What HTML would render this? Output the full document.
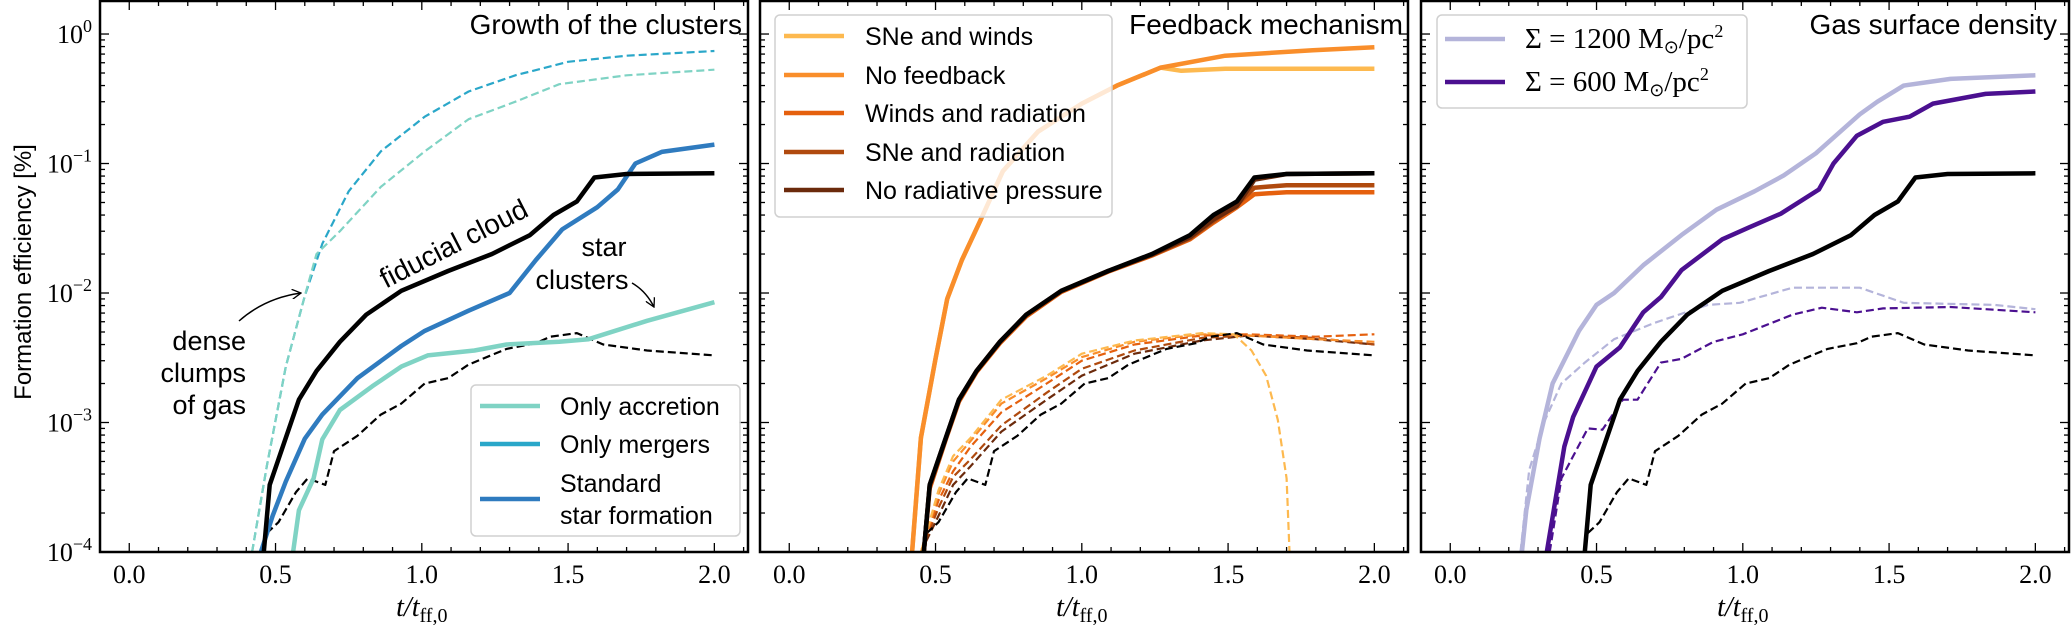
<!DOCTYPE html>
<html><head><meta charset="utf-8"><style>
html,body{margin:0;padding:0;background:#fff;}
svg{display:block;}
text{font-family:"Liberation Sans",sans-serif;fill:#000;}
.serif{font-family:"Liberation Serif",serif;}
</style></head><body>
<svg id="fig" width="2071" height="625" viewBox="0 0 2071 625" xmlns="http://www.w3.org/2000/svg"></svg>
<script>
// ---------- DATA (t in t/tff,0 ; values in %) ----------
const fidT = [0.46,0.48,0.535,0.58,0.64,0.72,0.81,0.93,1.09,1.24,1.37,1.45,1.53,1.59,1.7,2.0];
const fidV = [1e-4,3.3e-4,7.6e-4,1.5e-3,2.5e-3,4.2e-3,6.8e-3,1.04e-2,1.48e-2,2.0e-2,2.8e-2,4.0e-2,5.1e-2,7.8e-2,8.3e-2,8.4e-2];
const fidCT = [0.47,0.51,0.57,0.61,0.67,0.70,0.78,0.86,0.93,1.01,1.09,1.16,1.29,1.39,1.44,1.53,1.62,1.77,2.0];
const fidCV = [1.4e-4,1.7e-4,2.9e-4,3.7e-4,3.3e-4,6e-4,7.9e-4,1.15e-3,1.4e-3,2.0e-3,2.2e-3,2.8e-3,3.7e-3,4.1e-3,4.6e-3,4.9e-3,4.0e-3,3.6e-3,3.3e-3];
const accT = [0.56,0.58,0.63,0.66,0.72,0.83,0.93,1.02,1.18,1.29,1.47,1.57,1.77,2.0];
const accV = [1e-4,2.1e-4,3.7e-4,7.4e-4,1.25e-3,1.9e-3,2.7e-3,3.3e-3,3.6e-3,4.0e-3,4.2e-3,4.4e-3,6.1e-3,8.5e-3];
const stdT = [0.45,0.49,0.535,0.6,0.66,0.78,0.93,1.01,1.16,1.3,1.39,1.48,1.6,1.67,1.73,1.82,2.0];
const stdV = [1e-4,1.9e-4,3.5e-4,7.5e-4,1.15e-3,2.2e-3,3.9e-3,5.1e-3,7.3e-3,1.0e-2,1.8e-2,3.1e-2,4.6e-2,6.3e-2,1.0e-1,1.23e-1,1.4e-1];
const mergGasT = [0.42,0.47,0.535,0.6,0.66,0.75,0.86,1.01,1.16,1.32,1.5,1.7,2.0];
const mergGasV = [1e-4,4.6e-4,2.7e-3,9.5e-3,2.4e-2,6.1e-2,1.24e-1,2.3e-1,3.6e-1,4.8e-1,6.1e-1,6.8e-1,7.4e-1];
const accGasT = [0.42,0.47,0.535,0.6,0.64,0.72,0.86,1.01,1.16,1.32,1.47,1.7,2.0];
const accGasV = [1e-4,4.6e-4,2.7e-3,9.5e-3,2.0e-2,3.0e-2,6.6e-2,1.24e-1,2.2e-1,3.0e-1,4.1e-1,4.8e-1,5.3e-1];
// feedback panel
const fbRiseT = [0.42,0.45,0.5,0.54,0.59,0.65,0.73,0.85,1.0,1.12,1.27];
const fbRiseV = [1e-4,7.6e-4,3.1e-3,9e-3,1.8e-2,3.5e-2,8.7e-2,1.76e-1,2.9e-1,4.0e-1,5.5e-1];
const noFbTailT = [1.49,1.79,2.0];
const noFbTailV = [6.8e-1,7.5e-1,7.9e-1];
const snwTailT = [1.34,1.49,2.0];
const snwTailV = [5.2e-1,5.4e-1,5.4e-1];
const windRadV = [1e-4,3.1e-4,7.4e-4,1.45e-3,2.45e-3,4.1e-3,6.6e-3,1.02e-2,1.46e-2,1.95e-2,2.6e-2,3.5e-2,4.6e-2,5.8e-2,6.0e-2,6.0e-2];
const snRadV = [1e-4,3.2e-4,7.5e-4,1.48e-3,2.5e-3,4.2e-3,6.7e-3,1.03e-2,1.47e-2,1.97e-2,2.65e-2,3.6e-2,4.8e-2,6.5e-2,6.8e-2,6.8e-2];
const noRadV = [1e-4,3.3e-4,7.6e-4,1.5e-3,2.5e-3,4.2e-3,6.8e-3,1.04e-2,1.48e-2,1.98e-2,2.7e-2,3.7e-2,4.7e-2,7.5e-2,8.3e-2,8.4e-2];
const fbDashT = [0.45,0.51,0.56,0.62,0.725,0.88,1.0,1.18,1.41,1.57,1.8,2.0];
const snwDashT = [0.45,0.51,0.56,0.62,0.725,0.88,1.0,1.18,1.41,1.52,1.58,1.63,1.67,1.7,1.71];
const snwDashV2 = [1e-4,3.0e-4,5.5e-4,7.6e-4,1.5e-3,2.3e-3,3.4e-3,4.3e-3,4.9e-3,4.8e-3,3.6e-3,2.3e-3,1.05e-3,3.7e-4,1e-4];
const noFbDashV = [1e-4,2.8e-4,5.0e-4,7.2e-4,1.4e-3,2.2e-3,3.2e-3,4.2e-3,4.8e-3,4.7e-3,4.4e-3,4.2e-3];
const windRadDashV = [1e-4,2.5e-4,4.2e-4,6.5e-4,1.2e-3,2.0e-3,3.0e-3,4.0e-3,4.7e-3,4.8e-3,4.6e-3,4.8e-3];
const snRadDashV = [1e-4,2.2e-4,3.8e-4,5.2e-4,9.5e-4,1.7e-3,2.6e-3,3.6e-3,4.5e-3,4.7e-3,4.5e-3,4.0e-3];
const noRadDashV = [1e-4,1.9e-4,3.3e-4,4.6e-4,8.5e-4,1.5e-3,2.3e-3,3.4e-3,4.3e-3,4.7e-3,4.4e-3,4.0e-3];
// surface density panel
const s1200T = [0.245,0.26,0.305,0.35,0.44,0.5,0.56,0.66,0.79,0.91,1.04,1.14,1.25,1.4,1.46,1.55,1.71,2.0];
const s1200V = [1e-4,2.1e-4,7.5e-4,2.0e-3,5.1e-3,8.1e-3,1.0e-2,1.64e-2,2.8e-2,4.4e-2,6.1e-2,8.1e-2,1.2e-1,2.4e-1,3.0e-1,4.0e-1,4.5e-1,4.8e-1];
const s600T = [0.33,0.39,0.42,0.5,0.58,0.66,0.72,0.79,0.93,1.02,1.13,1.26,1.31,1.39,1.48,1.57,1.65,1.83,2.0];
const s600V = [1e-4,6.5e-4,1.1e-3,2.7e-3,3.8e-3,7.1e-3,9.3e-3,1.5e-2,2.6e-2,3.2e-2,4.1e-2,6.3e-2,1.0e-1,1.64e-1,2.1e-1,2.3e-1,2.9e-1,3.45e-1,3.6e-1];
const s1200CT = [0.24,0.27,0.32,0.38,0.46,0.56,0.7,0.88,0.99,1.17,1.4,1.55,1.86,2.0];
const s1200CV = [1e-4,4.3e-4,1.0e-3,2.0e-3,2.9e-3,4.4e-3,5.9e-3,8.1e-3,8.4e-3,1.1e-2,1.1e-2,8.4e-3,8.1e-3,7.5e-3];
const s600CT = [0.34,0.38,0.47,0.52,0.59,0.64,0.72,0.79,0.9,1.0,1.17,1.27,1.39,1.48,1.71,2.0];
const s600CV = [1e-4,3.7e-4,9.0e-4,8.8e-4,1.5e-3,1.5e-3,2.9e-3,3.1e-3,4.2e-3,4.8e-3,6.8e-3,7.7e-3,7.1e-3,7.6e-3,7.8e-3,7.1e-3];
const xTickLabels = ["0.0","0.5","1.0","1.5","2.0"];
const yTickExp = ["0","−1","−2","−3","−4"];

// ---------- DRAWING ----------
const NS = "http://www.w3.org/2000/svg";
const svg = document.getElementById('fig');
function mk(tag, attrs, parent){ const e=document.createElementNS(NS,tag); for(const k in attrs) e.setAttribute(k,attrs[k]); (parent||svg).appendChild(e); return e; }
const panelsL = [100,760,1421];
const PW = 648, TOP = 1, BOT = 552;
const XMIN=-0.1, XMAX=2.115, YMINL=-4, YMAXL=0.255;
function xs(p,t){ return panelsL[p] + (t-XMIN)/(XMAX-XMIN)*PW; }
function ys(v){ const l=Math.log10(Math.max(v,1e-6)); return BOT - (l-YMINL)/(YMAXL-YMINL)*(BOT-TOP); }

panelsL.forEach((L,i)=>{
  const cp = mk('clipPath',{id:'clip'+i});
  mk('rect',{x:L,y:TOP,width:PW,height:BOT-TOP},cp);
});

function line(p, T, V, color, w, dashed, name){
  let d=''; T.forEach((t,i)=>{ d += (i?'L':'M') + xs(p,t).toFixed(1)+','+ys(V[i]).toFixed(1); });
  const e = mk('path',{d:d,fill:'none',stroke:color,'stroke-width':w,'stroke-linejoin':'round','clip-path':'url(#clip'+p+')'});
  if(dashed) e.setAttribute('stroke-dasharray','8,4');
  
  
  return e;
}

function axes(p){
  const L=panelsL[p], g=mk('g',{});
  
  
  for(let k=-1;k<=21;k++){
    const t=k/10; if(t<XMIN||t>XMAX) continue;
    const x=xs(p,t), major=(k%5===0), len=major?9:5;
    mk('line',{x1:x,y1:BOT,x2:x,y2:BOT-len,stroke:'#000','stroke-width':1.3},g);
    mk('line',{x1:x,y1:TOP,x2:x,y2:TOP+len,stroke:'#000','stroke-width':1.3},g);
  }
  xTickLabels.forEach((s,i)=>{
    const tx = mk('text',{x:xs(p,i*0.5),y:583,'text-anchor':'middle','font-size':26,class:'serif'},g);
    tx.textContent=s;
    
    
  });
  for(let dec=-4; dec<=0; dec++){
    for(let m=1;m<=9;m++){
      const v=m*Math.pow(10,dec); const y=ys(v); if(y<TOP) continue;
      const len = m===1?9:5;
      mk('line',{x1:L,y1:y,x2:L+len,y2:y,stroke:'#000','stroke-width':1.3},g);
      mk('line',{x1:L+PW,y1:y,x2:L+PW-len,y2:y,stroke:'#000','stroke-width':1.3},g);
    }
  }
  if(p===0){
    yTickExp.forEach((s,i)=>{
      const y = ys(Math.pow(10,-i));
      const tx = mk('text',{x:92,y:y+9,'text-anchor':'end','font-size':26,class:'serif'},g);
      
      
      const a=document.createElementNS(NS,'tspan'); a.textContent='10'; tx.appendChild(a);
      const b=document.createElementNS(NS,'tspan'); b.setAttribute('dy','-11'); b.setAttribute('font-size','18'); b.textContent=s; tx.appendChild(b);
    });
  }
  const xl = mk('text',{x:xs(p,1.0),y:616,'text-anchor':'middle','font-size':28,class:'serif','font-style':'italic'},g);
  
  
  xl.innerHTML = 't/t<tspan font-size="20" font-style="normal" dy="6">ff,0</tspan>';
  mk('rect',{x:L,y:TOP,width:PW,height:BOT-TOP,fill:'none',stroke:'#000','stroke-width':2.5},g);
}
function txt(x,y,s,size,anchor,name,extra){
  const t=mk('text',Object.assign({x:x,y:y,'font-size':size,'text-anchor':anchor||'start'},extra||{}));
  t.textContent=s;
  
  
  return t;
}

// Panel 1
line(0,mergGasT,mergGasV,'#2aa7c9',2.2,true,'only-mergers-gas');
line(0,accGasT,accGasV,'#7fd3c4',2.2,true,'only-accretion-gas');
line(0,fidCT,fidCV,'#000',2.2,true,'fiducial-clusters');
line(0,accT,accV,'#7fd3c4',4.5,false,'only-accretion');
line(0,stdT,stdV,'#2f7bbf',4.5,false,'standard-star-formation');
line(0,fidT,fidV,'#000',4.5,false,'fiducial-cloud');
// Panel 2
line(1,fbDashT,noRadDashV,'#6b2a0c',2.2,true,'no-radiative-pressure-clusters');
line(1,fbDashT,snRadDashV,'#b04a0e',2.2,true,'sne-radiation-clusters');
line(1,fbDashT,windRadDashV,'#e5600e',2.2,true,'winds-radiation-clusters');
line(1,fbDashT,noFbDashV,'#f98e2b',2.2,true,'no-feedback-clusters');
line(1,snwDashT,snwDashV2,'#fdb94f',2.2,true,'sne-winds-clusters');
line(1,fidCT,fidCV,'#000',2.2,true,'fiducial-clusters');
line(1,fbRiseT.concat(snwTailT),fbRiseV.concat(snwTailV),'#fdb94f',4.5,false,'sne-winds');
line(1,fbRiseT.concat(noFbTailT),fbRiseV.concat(noFbTailV),'#f98e2b',4.5,false,'no-feedback');
line(1,fidT,windRadV,'#e5600e',4.5,false,'winds-radiation');
line(1,fidT,snRadV,'#b04a0e',4.5,false,'sne-radiation');
line(1,fidT,noRadV,'#6b2a0c',4.5,false,'no-radiative-pressure');
line(1,fidT,fidV,'#000',4.5,false,'fiducial-cloud');
// Panel 3
line(2,s1200CT,s1200CV,'#b4b4da',2.2,true,'sigma-1200-clusters');
line(2,s600CT,s600CV,'#4b1090',2.2,true,'sigma-600-clusters');
line(2,fidCT,fidCV,'#000',2.2,true,'fiducial-clusters');
line(2,s1200T,s1200V,'#b4b4da',4.5,false,'sigma-1200');
line(2,s600T,s600V,'#4b1090',4.5,false,'sigma-600');
line(2,fidT,fidV,'#000',4.5,false,'fiducial-cloud');

[0,1,2].forEach(axes);

txt(0,0,'Formation efficiency [%]',24,'middle','y-axis-title',{transform:'translate(31,272) rotate(-90)'});

txt(742,34,'Growth of the clusters',28,'end','panel-1-title');
txt(1403,34,'Feedback mechanism',28,'end','panel-2-title');
txt(2057,34,'Gas surface density',28,'end','panel-3-title');

txt(0,0,'fiducial cloud',28,'middle','fiducial-cloud-label',{transform:'translate(458,252) rotate(-27)'});
txt(604,256,'star',27,'middle','star-clusters-label');
txt(582,289,'clusters',27,'middle','star-clusters-label-2');
txt(246,350,'dense',27,'end','dense-clumps-label');
txt(246,382,'clumps',27,'end','dense-clumps-label-2');
txt(246,414,'of gas',27,'end','dense-clumps-label-3');
mk('defs',{}).innerHTML='<marker id="ah" markerWidth="10" markerHeight="10" refX="9" refY="5" orient="auto" markerUnits="userSpaceOnUse"><path d="M0,0 L9,5 L0,10" fill="none" stroke="#000" stroke-width="1.3"/></marker>';
const a1=mk('path',{d:'M239,321 Q265,298 301,293',fill:'none',stroke:'#000','stroke-width':1.5,'marker-end':'url(#ah)'});
 
const a2=mk('path',{d:'M632,283 Q646,291 654,307',fill:'none',stroke:'#000','stroke-width':1.5,'marker-end':'url(#ah)'});
 

function legend(x,y,w,h,entries,name,textX,lineX){
  const g=mk('g',{});
  
  
  mk('rect',{x:x,y:y,width:w,height:h,rx:5,fill:'rgba(255,255,255,0.8)',stroke:'#d0d0d0','stroke-width':1.5},g);
  entries.forEach(e=>{
    mk('line',{x1:lineX,y1:e[2],x2:lineX+60,y2:e[2],stroke:e[1],'stroke-width':4.5},g);
    e[3].forEach((s,j)=>{
      const t=mk('text',{x:textX,y:e[2]+9+(e[3].length>1?(j*32-16):0),'font-size':e[4]||25},g);
      t.innerHTML=s;
      
      
    });
  });
}
legend(471,385,269,151,[
  ['a','#7fd3c4',406,['Only accretion']],
  ['b','#2aa7c9',444,['Only mergers']],
  ['c','#2f7bbf',499,['Standard','star formation']]],'legend-panel-1',560,480);
legend(775,15,337,202,[
  ['a','#fdb94f',36,['SNe and winds']],
  ['b','#f98e2b',75,['No feedback']],
  ['c','#e5600e',113,['Winds and radiation']],
  ['d','#b04a0e',152,['SNe and radiation']],
  ['e','#6b2a0c',190,['No radiative pressure']]],'legend-panel-2',865,784);
legend(1437,15,310,93,[
  ['a','#b4b4da',39,['<tspan class="serif">Σ = 1200 M<tspan font-size="18" dy="5">⊙</tspan><tspan dy="-5">/pc</tspan><tspan font-size="18" dy="-11">2</tspan></tspan>'],29],
  ['b','#4b1090',82,['<tspan class="serif">Σ = 600 M<tspan font-size="18" dy="5">⊙</tspan><tspan dy="-5">/pc</tspan><tspan font-size="18" dy="-11">2</tspan></tspan>'],29]],'legend-panel-3',1525,1445);
</script>
</body></html>
